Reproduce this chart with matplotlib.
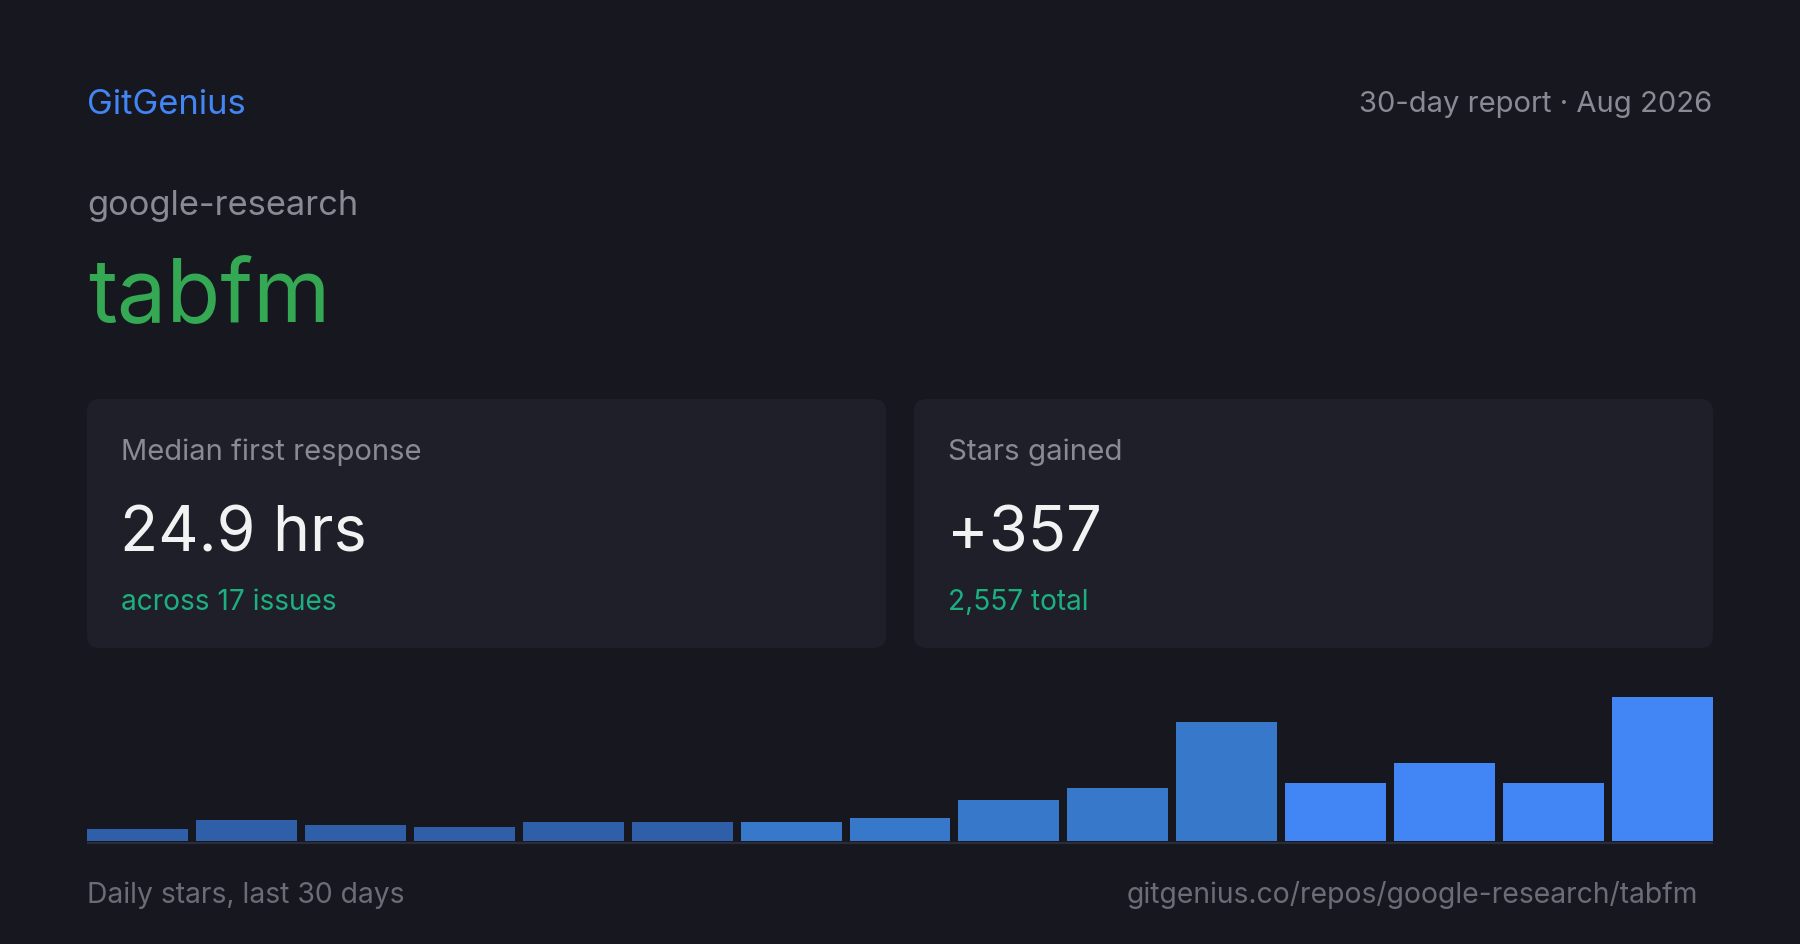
import numpy as np
import matplotlib
matplotlib.use('Agg')
import matplotlib.pyplot as plt
from matplotlib.patches import FancyBboxPatch

plt.rcParams['font.family'] = ['Inter', 'DejaVu Sans']

# data
brand = 'GitGenius'
report = '30-day report · Aug 2026'
owner = 'google-research'
repo = 'tabfm'
card_labels = ['Median first response', 'Stars gained']
card_values = ['24.9 hrs', '+357']
card_subs = ['across 17 issues', '2,557 total']
daily_stars = [6, 11, 8, 7, 10, 10, 10, 12, 21, 27, 61, 30, 40, 30, 74]
footer_left = 'Daily stars, last 30 days'
footer_right = 'gitgenius.co/repos/google-research/tabfm'

bg = '#17171f'
card_bg = '#1f1f2a'
gray = '#8a8a94'
dim = '#6c6c76'
green_sub = '#1db07f'

W, H = 1800, 945
fig = plt.figure(figsize=(18, 9.45), dpi=100, facecolor=bg)

# full-figure axes in pixel coords for text and cards
ax = fig.add_axes([0, 0, 1, 1])
ax.set_xlim(0, W)
ax.set_ylim(H, 0)
ax.axis('off')
ax.set_facecolor(bg)

ax.text(87, 114, brand, color='#4285f4', fontsize=24.9, va='baseline', ha='left')
ax.text(1712, 112, report, color=gray, fontsize=21, va='baseline', ha='right')
ax.text(87, 215, owner, color=gray, fontsize=24.8, va='baseline', ha='left')
ax.text(88, 322, repo, color='#34a853', fontsize=63.5, va='baseline', ha='left')

card_x = [87, 914]
card_w = 799
label_fs = [21, 21.3]
value_fs = [45, 45.5]
for i in range(2):
    x0 = card_x[i]
    box = FancyBboxPatch((x0, 400), card_w, 249,
                         boxstyle='round,pad=0,rounding_size=12',
                         facecolor=card_bg, edgecolor='none')
    ax.add_patch(box)
    ax.text(x0 + 34, 460, card_labels[i], color=gray, fontsize=label_fs[i], va='baseline')
    ax.text(x0 + 33, 551, card_values[i], color='#f2f2f2', fontsize=value_fs[i], va='baseline')
    ax.text(x0 + 34, 610, card_subs[i], color=green_sub, fontsize=20.2, va='baseline')

# baseline under bars
ax.plot([87, 1713], [843.5, 843.5], color='#2c2c38', lw=1.6, solid_capstyle='butt')

ax.text(87, 903, footer_left, color=dim, fontsize=20.4, va='baseline', ha='left')
ax.text(1698, 903, footer_right, color=dim, fontsize=20.4, va='baseline', ha='right')

# bar chart axes
base_px, top_px = 842, 698
bx = fig.add_axes([87 / W, 1 - base_px / H, (1713 - 87) / W, (base_px - top_px) / H])
bx.set_facecolor('none')
n = len(daily_stars)
x = np.arange(n)
width = 0.927
colors = ['#2f5fa9'] * 6 + ['#3778ca'] * 5 + ['#4285f4'] * 4
bx.bar(x, daily_stars, width=width, color=colors, edgecolor='none')
bx.set_xlim(-width / 2, n - 1 + width / 2)
bx.set_ylim(0, max(daily_stars))
bx.axis('off')

fig.savefig('out.png', dpi=100, facecolor=bg)
